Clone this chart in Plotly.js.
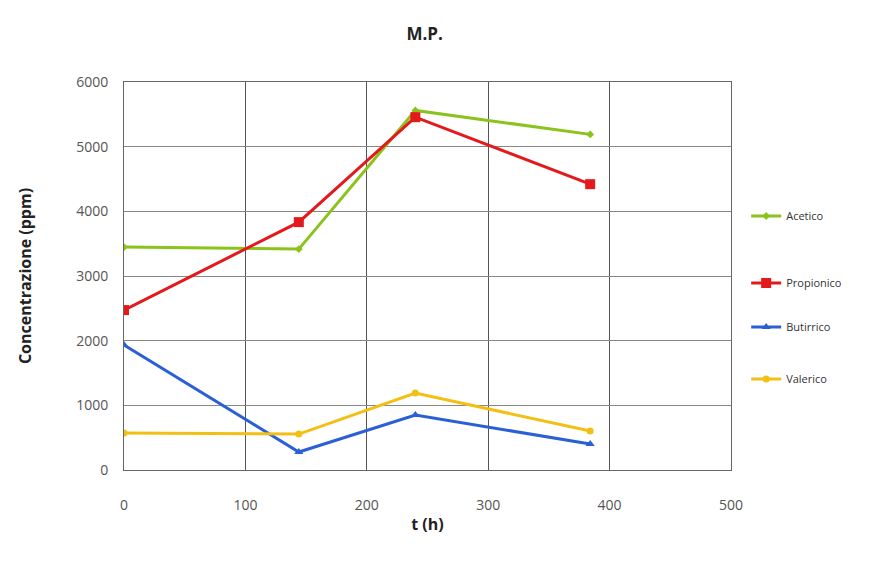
<!DOCTYPE html>
<html><head><meta charset="utf-8">
<script src="https://cdn.plot.ly/plotly-3.0.1.min.js"></script>
<style>body{margin:0;background:#fff}#chart{width:892px;height:565px}</style>
</head><body><div id="chart"></div>
<script>
const tHours = [0, 144, 240, 384];
const acetico = [3447, 3416, 5560, 5190];
const propionico = [2473, 3833, 5456, 4420];
const butirrico = [1932, 278, 850, 402];
const valerico = [572, 556, 1190, 603];
const seriesNames = ["Acetico", "Propionico", "Butirrico", "Valerico"];
const xTicks = [0, 100, 200, 300, 400, 500];
const yTicks = [0, 1000, 2000, 3000, 4000, 5000, 6000];

const colors = ["#8cc21c", "#e3191c", "#2a5fd6", "#f2c014"];
const symbols = ["diamond", "square", "triangle-up", "circle"];
const sizes = [6, 10, 8, 7];
const legendIds = ["legend", "legend2", "legend3", "legend4"];
const data = [acetico, propionico, butirrico, valerico].map((ys, i) => ({
  x: tHours, y: ys, name: seriesNames[i], type: "scatter", mode: "lines+markers",
  legend: legendIds[i],
  line: {color: colors[i], width: 3},
  marker: {color: colors[i], symbol: symbols[i], size: sizes[i]}
}));

const legendY = [216, 283, 327, 379];
const layout = {
  width: 892, height: 565,
  margin: {l: 124, r: 161, t: 82, b: 95},
  paper_bgcolor: "#fff", plot_bgcolor: "#fff",
  font: {family: "Open Sans, Liberation Sans, sans-serif", color: "#444"},
  title: {text: "<b>M.P.</b>", x: 0.476, xanchor: "center", y: 0.94, yanchor: "middle", font: {size: 17, color: "#222"}},
  xaxis: {range: [0, 500], tickvals: xTicks, showgrid: true, gridcolor: "#555", gridwidth: 1,
    zeroline: false, showline: true, linecolor: "#666", mirror: true, ticks: "",
    ticklabelstandoff: 22,
    tickfont: {size: 14, color: "#555"},
    title: {text: "<b>t (h)</b>", font: {size: 16, color: "#222"}, standoff: 6}},
  yaxis: {range: [0, 6000], tickvals: yTicks, showgrid: true, gridcolor: "#888", gridwidth: 1,
    zeroline: false, showline: true, linecolor: "#666", mirror: true, ticks: "",
    ticklabelstandoff: 12,
    tickfont: {size: 14, color: "#555"},
    title: {text: "<b>Concentrazione (ppm)</b>", font: {size: 16, color: "#222"}, standoff: 40}},
  showlegend: true
};
legendIds.forEach((id, i) => {
  layout[id] = {x: 1.025, xanchor: "left", y: 1 - (legendY[i] - 82) / 388, yanchor: "middle",
    yref: "paper", font: {size: 11, color: "#333"}, itemwidth: 30, bgcolor: "rgba(0,0,0,0)"};
});
Plotly.newPlot("chart", data, layout, {displayModeBar: false, staticPlot: true});
</script></body></html>
